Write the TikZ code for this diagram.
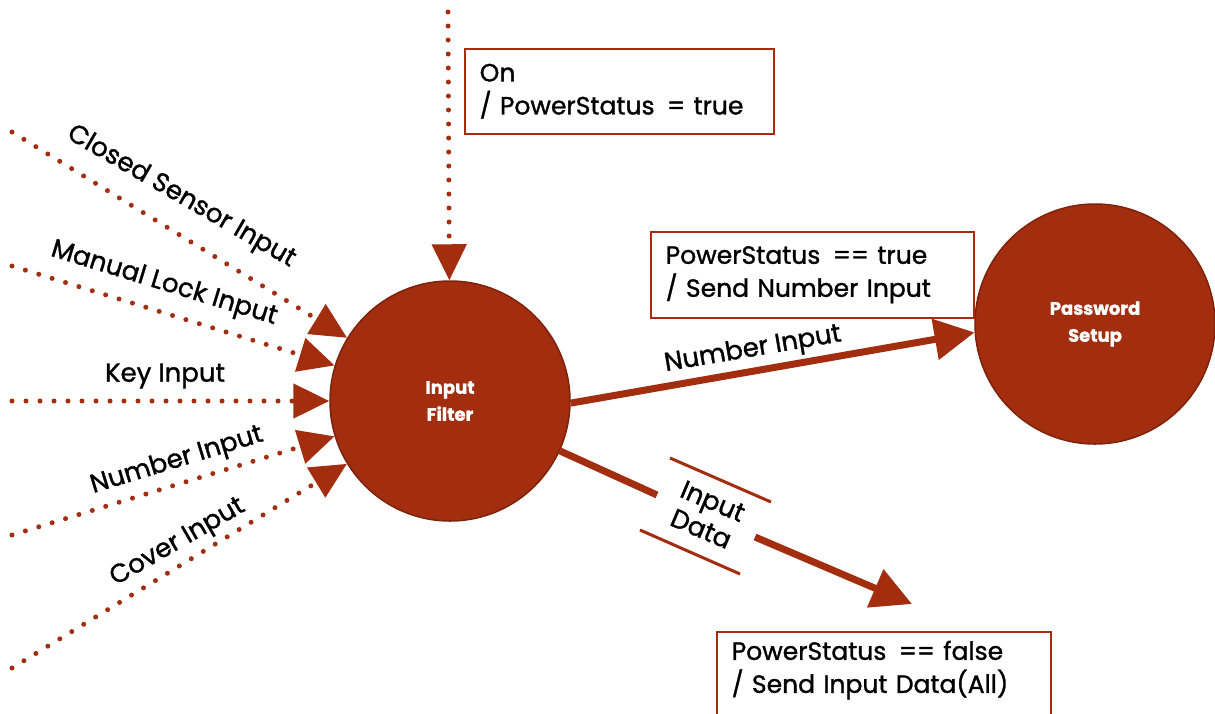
\documentclass[tikz,border=0pt]{standalone}
\usepackage{fontspec}
\setmainfont{Poppins}[RawFeature={embolden=1.2}]
\usetikzlibrary{arrows.meta}
\definecolor{rust}{RGB}{163,45,15}
\definecolor{rustdark}{RGB}{125,35,12}
\begin{document}
\begin{tikzpicture}[x=1pt,y=-1pt,
  state/.style={circle, fill=rust, draw=rustdark, line width=1.5pt, minimum size=240pt, inner sep=0pt, text=white, font=\bfseries\fontsize{18}{27}\selectfont, align=center},
  dotline/.style={rust, line width=5pt, line cap=round, dash pattern=on 0pt off 14pt, -{Triangle[length=36pt,width=34pt]}},
  flow/.style={rust, line width=7pt, -{Triangle[length=40pt,width=40pt]}},
  flowplain/.style={rust, line width=7pt},
  storeline/.style={rust, line width=3pt},
  guard/.style={draw=rust, line width=1.5pt, fill=white, anchor=north west, align=left, inner xsep=15pt, font=\fontsize{25}{33}\selectfont},
  lbl/.style={font=\fontsize{26}{30}\selectfont}]
\useasboundingbox (0,0) rectangle (1215,713);
\fill[white] (0,0) rectangle (1215,713);

% states
\node[state] (filter) at (450,401) {Input\\Filter};
\node[state] (pwd) at (1095,324) {Password\\Setup};

% dotted inputs
\coordinate (on) at (448,12);
\coordinate (cs) at (12,132);
\coordinate (ml) at (12,266);
\coordinate (ki) at (12,401);
\coordinate (ni) at (12,535);
\coordinate (ci) at (12,668);
\draw[dotline] (on) -- (filter);
\draw[dotline] (cs) -- (filter);
\draw[dotline] (ml) -- (filter);
\draw[dotline] (ki) -- (filter);
\draw[dotline] (ni) -- (filter);
\draw[dotline] (ci) -- (filter);

\node[lbl, rotate=-30] at (181,197) {Closed Sensor Input};
\node[lbl, rotate=-17] at (164,284) {Manual Lock Input};
\node[lbl] at (165,376) {Key Input};
\node[lbl, rotate=17] at (177,461) {Number Input};
\node[lbl, rotate=30] at (178,543) {Cover Input};

% guard boxes
\node[guard, minimum width=309pt, minimum height=85pt, text width=279pt] (onbox) at (464,48) {On\\/ PowerStatus \,= true};
\node[guard, minimum width=323pt, minimum height=86pt, text width=293pt] (truebox) at (650,231) {PowerStatus \,== true\\/ Send Number Input};
\node[guard, minimum width=334pt, text width=304pt, inner ysep=9pt] (falsebox) at (716,631) {PowerStatus \,== false\\/ Send Input Data(All)\\\strut};

% number input flow
\draw[flow] (filter.-1) -- (pwd.184);
\node[lbl, rotate=9.7] at (753,350) {Number Input};

% input data flow
\coordinate (gapA) at (657,495);
\coordinate (gapB) at (755,537);
\coordinate (dtip) at (912,604);
\draw[flowplain] (filter) -- (gapA);
\draw[flow] (gapB) -- (dtip);
\coordinate (s1a) at (670,458);
\coordinate (s1b) at (771,502);
\coordinate (s2a) at (640,530);
\coordinate (s2b) at (740,574);
\draw[storeline] (s1a) -- (s1b);
\draw[storeline] (s2a) -- (s2b);
\node[lbl, rotate=-23, align=center] at (707,515) {Input\\Data};
\end{tikzpicture}
\end{document}
